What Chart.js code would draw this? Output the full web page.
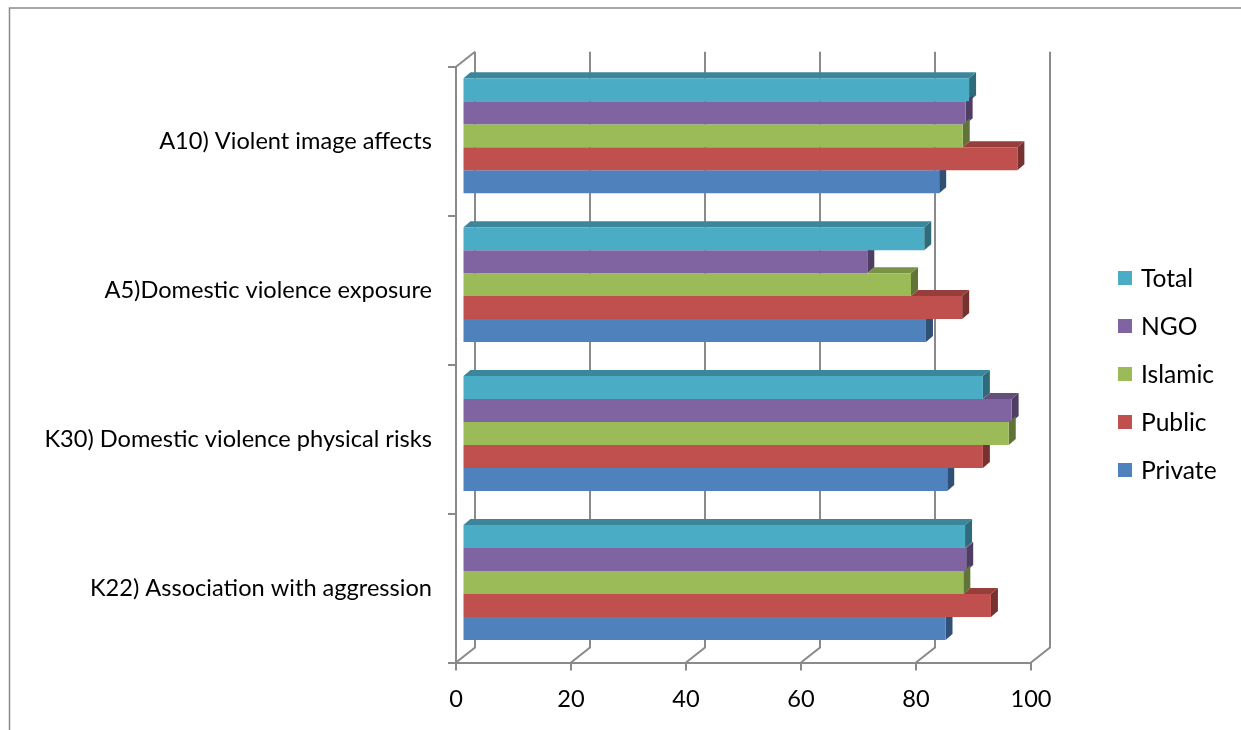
<!DOCTYPE html>
<html>
<head>
<meta charset="utf-8">
<script src="https://cdn.jsdelivr.net/npm/chart.js@4/dist/chart.umd.min.js"></script>
<style>
  html, body { margin: 0; padding: 0; background: #ffffff; }
  #wrap { width: 1241px; height: 730px; position: relative; }
</style>
</head>
<body>
<div id="wrap"><canvas id="c" width="1241" height="730"></canvas></div>
<script>
// Survey items (top to bottom) and percentage agreement by school type
const categories = [
  'A10) Violent image affects',
  'A5)Domestic violence exposure',
  'K30) Domestic violence physical risks',
  'K22) Association with aggression'
];
const seriesNames = ['Total', 'NGO', 'Islamic', 'Public', 'Private'];
const totalVals   = [88.1, 80.3, 90.5, 87.4];
const ngoVals     = [87.5, 70.4, 95.5, 87.6];
const islamicVals = [87.0, 78.0, 95.0, 87.1];
const publicVals  = [96.5, 86.9, 90.5, 91.9];
const privateVals = [82.9, 80.6, 84.3, 84.0];
const xTickValues = [0, 20, 40, 60, 80, 100];

const seriesData = [totalVals, ngoVals, islamicVals, publicVals, privateVals];
const colors = ['#4BACC6', '#8064A2', '#9BBB59', '#C0504D', '#4F81BD'];

const FONT = 'Lato, "Open Sans", sans-serif';
const GRID = '#8a8a8a';
// oblique offsets: front plane -> bar front face, bar depth, front plane -> back wall
const BAR_OFF = { dx: 6.5, dy: -5.5 };
const BAR_DEPTH = { dx: 7, dy: -6 };
const WALL = { dx: 19, dy: -15 };

function shade(hex, f) {
  const n = parseInt(hex.slice(1), 16);
  const r = Math.round(((n >> 16) & 255) * f);
  const g = Math.round(((n >> 8) & 255) * f);
  const b = Math.round((n & 255) * f);
  return `rgb(${r},${g},${b})`;
}

function poly(ctx, pts, fill) {
  ctx.beginPath();
  ctx.moveTo(pts[0][0], pts[0][1]);
  for (let k = 1; k < pts.length; k++) ctx.lineTo(pts[k][0], pts[k][1]);
  ctx.closePath();
  ctx.fillStyle = fill;
  ctx.fill();
}

// Walls, floor and the side/top faces of each bar; front faces come from Chart.js
const depthPlugin = {
  id: 'depth3d',
  beforeDatasetsDraw(chart) {
    const { ctx, chartArea, scales: { x } } = chart;
    const top = chartArea.top, bottom = chartArea.bottom, left = chartArea.left;
    ctx.save();
    ctx.strokeStyle = GRID;
    ctx.lineWidth = 2;
    ctx.lineCap = 'butt';
    // floor diagonals and back wall verticals
    xTickValues.forEach(v => {
      const fx = x.getPixelForValue(v);
      ctx.beginPath();
      ctx.moveTo(fx, bottom);
      ctx.lineTo(fx + WALL.dx, bottom + WALL.dy);
      ctx.lineTo(fx + WALL.dx, top + WALL.dy);
      ctx.stroke();
    });
    // left wall top edge
    ctx.beginPath();
    ctx.moveTo(left, top);
    ctx.lineTo(left + WALL.dx, top + WALL.dy);
    ctx.stroke();

    // side and top faces
    const ox = BAR_OFF.dx, oy = BAR_OFF.dy, dx = BAR_DEPTH.dx, dy = BAR_DEPTH.dy;
    const metas = chart.data.datasets.map((_, i) => chart.getDatasetMeta(i));
    metas.forEach((meta, i) => {
      meta.data.forEach((bar, j) => {
        const { x: xe, y: yc, base, height } = bar.getProps(['x', 'y', 'base', 'height'], true);
        const yt = yc - height / 2 + oy, yb = yc + height / 2 + oy;
        const x1 = xe + ox;
        let x0 = base + ox;
        // right face
        poly(ctx, [[x1, yt], [x1, yb], [x1 + dx, yb + dy], [x1 + dx, yt + dy]], shade(colors[i], 0.62));
        // exposed part of the top face
        if (i > 0) {
          const prev = metas[i - 1].data[j].getProps(['x'], true).x + ox;
          if (prev >= x1) return;
          x0 = prev;
        }
        poly(ctx, [[x0, yt], [x1, yt], [x1 + dx, yt + dy], [x0 + dx, yt + dy]], shade(colors[i], 0.78));
      });
    });
    ctx.restore();
    // shift front faces onto the bar plane
    ctx.save();
    ctx.translate(ox, oy);
  },
  afterDatasetsDraw(chart) {
    chart.ctx.restore();
  }
};

// Legend on the right and the outer frame
const sidePlugin = {
  id: 'sideLegend',
  afterDraw(chart) {
    const { ctx } = chart;
    ctx.save();
    const yStart = 278, step = 48;
    chart.data.datasets.forEach((ds, i) => {
      const cy = yStart + i * step;
      ctx.fillStyle = ds.backgroundColor;
      ctx.fillRect(1118, cy - 7, 14, 14);
      ctx.fillStyle = '#000000';
      ctx.font = `24.6px ${FONT}`;
      ctx.textBaseline = 'middle';
      ctx.textAlign = 'left';
      ctx.fillText(ds.label, 1141, cy + 1);
    });
    ctx.strokeStyle = '#8a8a8a';
    ctx.lineWidth = 1.5;
    ctx.strokeRect(9.5, 8, 1400, 900);
    ctx.restore();
  }
};

new Chart(document.getElementById('c'), {
  type: 'bar',
  data: {
    labels: categories,
    datasets: seriesNames.map((name, i) => ({
      label: name,
      data: seriesData[i],
      backgroundColor: colors[i],
      borderWidth: 0,
      categoryPercentage: 0.772,
      barPercentage: 1
    }))
  },
  options: {
    indexAxis: 'y',
    responsive: false,
    animation: false,
    devicePixelRatio: 1,
    layout: { padding: { top: 66.7, right: 210, bottom: 0, left: 0 } },
    plugins: { legend: { display: false }, tooltip: { enabled: false } },
    scales: {
      x: {
        min: 0,
        max: 100,
        afterBuildTicks: s => { s.ticks = xTickValues.map(v => ({ value: v })); },
        afterFit: s => { s.height = 67.5; },
        grid: { drawOnChartArea: false, color: GRID, lineWidth: 2, tickLength: 8 },
        border: { color: GRID, width: 2 },
        ticks: { font: { family: FONT, size: 23.6 }, color: '#000000', padding: 15 }
      },
      y: {
        afterFit: s => { s.width = 456; },
        grid: { drawOnChartArea: false, offset: true, color: GRID, lineWidth: 2, tickLength: 8 },
        border: { color: GRID, width: 2 },
        ticks: { font: { family: FONT, size: 23.6 }, color: '#000000', padding: 16 }
      }
    }
  },
  plugins: [depthPlugin, sidePlugin]
});
</script>
</body>
</html>
